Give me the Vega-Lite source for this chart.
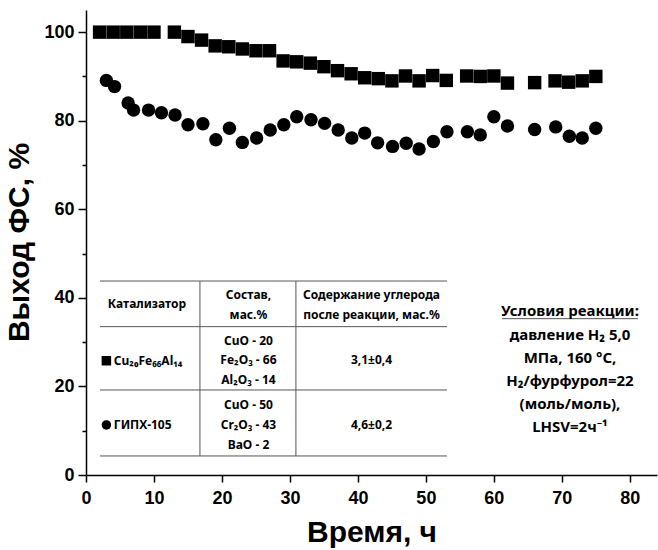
{
  "$schema": "https://vega.github.io/schema/vega-lite/v6.json",
  "width": 571,
  "height": 465,
  "autosize": "none",
  "padding": {"left": 86, "top": 10, "right": 1, "bottom": 75},
  "background": "white",
  "config": {
    "view": {"stroke": null},
    "axis": {
      "grid": false,
      "domainColor": "black",
      "domainWidth": 1.5,
      "tickColor": "black",
      "tickWidth": 1.5,
      "labelFont": "Liberation Sans",
      "labelFontWeight": "bold",
      "labelFontSize": 18,
      "labelColor": "black",
      "titleFont": "Liberation Sans",
      "titleFontWeight": "bold",
      "titleFontSize": 30,
      "titleColor": "black"
    }
  },
  "datasets": {
    "points": [
      {"t": 2, "yield": 100, "cat": "Cu20Fe66Al14"},
      {"t": 4, "yield": 100, "cat": "Cu20Fe66Al14"},
      {"t": 6, "yield": 100, "cat": "Cu20Fe66Al14"},
      {"t": 8, "yield": 100, "cat": "Cu20Fe66Al14"},
      {"t": 10, "yield": 100, "cat": "Cu20Fe66Al14"},
      {"t": 13, "yield": 100, "cat": "Cu20Fe66Al14"},
      {"t": 15, "yield": 99, "cat": "Cu20Fe66Al14"},
      {"t": 17, "yield": 98.2, "cat": "Cu20Fe66Al14"},
      {"t": 19, "yield": 96.9, "cat": "Cu20Fe66Al14"},
      {"t": 21, "yield": 96.7, "cat": "Cu20Fe66Al14"},
      {"t": 23, "yield": 96.2, "cat": "Cu20Fe66Al14"},
      {"t": 25, "yield": 95.8, "cat": "Cu20Fe66Al14"},
      {"t": 27, "yield": 95.8, "cat": "Cu20Fe66Al14"},
      {"t": 29, "yield": 93.5, "cat": "Cu20Fe66Al14"},
      {"t": 31, "yield": 93.3, "cat": "Cu20Fe66Al14"},
      {"t": 33, "yield": 93, "cat": "Cu20Fe66Al14"},
      {"t": 35, "yield": 92.2, "cat": "Cu20Fe66Al14"},
      {"t": 37, "yield": 91.3, "cat": "Cu20Fe66Al14"},
      {"t": 39, "yield": 90.6, "cat": "Cu20Fe66Al14"},
      {"t": 41, "yield": 89.7, "cat": "Cu20Fe66Al14"},
      {"t": 43, "yield": 89.5, "cat": "Cu20Fe66Al14"},
      {"t": 45, "yield": 89, "cat": "Cu20Fe66Al14"},
      {"t": 47, "yield": 90.1, "cat": "Cu20Fe66Al14"},
      {"t": 49, "yield": 89, "cat": "Cu20Fe66Al14"},
      {"t": 51, "yield": 90.2, "cat": "Cu20Fe66Al14"},
      {"t": 53, "yield": 89.1, "cat": "Cu20Fe66Al14"},
      {"t": 56, "yield": 90.1, "cat": "Cu20Fe66Al14"},
      {"t": 58, "yield": 90, "cat": "Cu20Fe66Al14"},
      {"t": 60, "yield": 90.1, "cat": "Cu20Fe66Al14"},
      {"t": 62, "yield": 88.5, "cat": "Cu20Fe66Al14"},
      {"t": 66, "yield": 88.6, "cat": "Cu20Fe66Al14"},
      {"t": 69, "yield": 89, "cat": "Cu20Fe66Al14"},
      {"t": 71, "yield": 88.7, "cat": "Cu20Fe66Al14"},
      {"t": 73, "yield": 89, "cat": "Cu20Fe66Al14"},
      {"t": 75, "yield": 90, "cat": "Cu20Fe66Al14"},
      {"t": 3, "yield": 89.1, "cat": "ГИПХ-105"},
      {"t": 4.2, "yield": 87.7, "cat": "ГИПХ-105"},
      {"t": 6.2, "yield": 84, "cat": "ГИПХ-105"},
      {"t": 7, "yield": 82.4, "cat": "ГИПХ-105"},
      {"t": 9.2, "yield": 82.4, "cat": "ГИПХ-105"},
      {"t": 11.1, "yield": 81.8, "cat": "ГИПХ-105"},
      {"t": 13.1, "yield": 81.3, "cat": "ГИПХ-105"},
      {"t": 15, "yield": 79.1, "cat": "ГИПХ-105"},
      {"t": 17.2, "yield": 79.3, "cat": "ГИПХ-105"},
      {"t": 19.1, "yield": 75.7, "cat": "ГИПХ-105"},
      {"t": 21.1, "yield": 78.3, "cat": "ГИПХ-105"},
      {"t": 23, "yield": 75.1, "cat": "ГИПХ-105"},
      {"t": 25.1, "yield": 76.1, "cat": "ГИПХ-105"},
      {"t": 27.1, "yield": 77.9, "cat": "ГИПХ-105"},
      {"t": 29.1, "yield": 79.1, "cat": "ГИПХ-105"},
      {"t": 31, "yield": 80.9, "cat": "ГИПХ-105"},
      {"t": 33.1, "yield": 80.2, "cat": "ГИПХ-105"},
      {"t": 35.1, "yield": 79.4, "cat": "ГИПХ-105"},
      {"t": 37.1, "yield": 77.9, "cat": "ГИПХ-105"},
      {"t": 39.1, "yield": 76.1, "cat": "ГИПХ-105"},
      {"t": 41, "yield": 77.2, "cat": "ГИПХ-105"},
      {"t": 42.9, "yield": 75, "cat": "ГИПХ-105"},
      {"t": 45.1, "yield": 74.2, "cat": "ГИПХ-105"},
      {"t": 47.1, "yield": 74.9, "cat": "ГИПХ-105"},
      {"t": 49, "yield": 73.6, "cat": "ГИПХ-105"},
      {"t": 51.1, "yield": 75.3, "cat": "ГИПХ-105"},
      {"t": 53.1, "yield": 77.5, "cat": "ГИПХ-105"},
      {"t": 56.1, "yield": 77.5, "cat": "ГИПХ-105"},
      {"t": 58, "yield": 76.8, "cat": "ГИПХ-105"},
      {"t": 60, "yield": 80.9, "cat": "ГИПХ-105"},
      {"t": 62, "yield": 78.8, "cat": "ГИПХ-105"},
      {"t": 66, "yield": 78, "cat": "ГИПХ-105"},
      {"t": 69.1, "yield": 78.6, "cat": "ГИПХ-105"},
      {"t": 71.1, "yield": 76.5, "cat": "ГИПХ-105"},
      {"t": 73, "yield": 76.1, "cat": "ГИПХ-105"},
      {"t": 75, "yield": 78.3, "cat": "ГИПХ-105"}
    ],
    "tableLines": [
      {"x": 2.06, "x2": 53.1, "y": 43.8, "y2": 43.8},
      {"x": 2.06, "x2": 53.1, "y": 33.5, "y2": 33.5},
      {"x": 2.06, "x2": 53.1, "y": 19.2, "y2": 19.2},
      {"x": 2.06, "x2": 53.1, "y": 4.3, "y2": 4.3},
      {"x": 16.76, "x2": 16.76, "y": 43.8, "y2": 4.3},
      {"x": 30.88, "x2": 30.88, "y": 43.8, "y2": 4.3},
      {"x": 61.2, "x2": 81.2, "y": 35.3, "y2": 35.3}
    ],
    "tableCenter": [
      {"x": 8.97, "y": 38.6, "lines": ["Катализатор"]},
      {"x": 23.9, "y": 40.66, "lines": ["Состав,", "мас.%"]},
      {"x": 42.0, "y": 40.66, "lines": ["Содержание углерода", "после реакции, мас.%"]},
      {"x": 23.9, "y": 30.34, "lines": ["CuO - 20", "Fe₂O₃ - 66", "Al₂O₃ - 14"]},
      {"x": 42.0, "y": 25.98, "lines": ["3,1±0,4"]},
      {"x": 23.9, "y": 15.81, "lines": ["CuO - 50", "Cr₂O₃ - 43", "BaO - 2"]},
      {"x": 42.0, "y": 11.3, "lines": ["4,6±0,2"]}
    ],
    "tableLeft": [
      {"x": 4.1, "y": 25.8, "label": "Cu₂₀Fe₆₆Al₁₄"},
      {"x": 4.1, "y": 11.3, "label": "ГИПХ-105"}
    ],
    "tableSymbols": [
      {"x": 3.0, "y": 25.8, "cat": "Cu20Fe66Al14"},
      {"x": 3.0, "y": 11.3, "cat": "ГИПХ-105"}
    ],
    "conditions": [
      {"x": 71.2, "y": 37.1, "lines": ["Условия реакции:"]},
      {"x": 71.2, "y": 31.62, "lines": ["давление H₂ 5,0", "МПа, 160 °C,", "H₂/фурфурол=22", "(моль/моль),", "LHSV=2ч⁻¹"]}
    ]
  },
  "layer": [
    {
      "data": {"name": "points"},
      "mark": {"type": "point", "filled": true, "opacity": 1, "size": 180, "color": "black", "strokeWidth": 0},
      "encoding": {
        "x": {
          "field": "t", "type": "quantitative",
          "scale": {"domain": [0, 84], "nice": false, "zero": false},
          "axis": {
            "title": "Время, ч",
            "values": [0, 5, 10, 15, 20, 25, 30, 35, 40, 45, 50, 55, 60, 65, 70, 75, 80],
            "labelExpr": "datum.value % 10 === 0 ? datum.label : ''",
            "tickSize": {"condition": {"test": "datum.value % 10 === 0", "value": 7}, "value": 4},
            "labelPadding": 7,
            "titlePadding": 10,
            "labelFlush": false
          }
        },
        "y": {
          "field": "yield", "type": "quantitative",
          "scale": {"domain": [0, 105], "nice": false, "zero": false},
          "axis": {
            "title": "Выход ФС, %",
            "values": [0, 10, 20, 30, 40, 50, 60, 70, 80, 90, 100],
            "labelExpr": "datum.value % 20 === 0 ? datum.label : ''",
            "tickSize": {"condition": {"test": "datum.value % 20 === 0", "value": 8}, "value": 4},
            "labelPadding": 4,
            "titleX": -52,
            "titleY": 232,
            "titleBaseline": "bottom",
            "labelFlush": false
          }
        },
        "shape": {
          "field": "cat", "type": "nominal",
          "scale": {"domain": ["Cu20Fe66Al14", "ГИПХ-105"], "range": ["square", "circle"]},
          "legend": null
        }
      }
    },
    {
      "mark": {"type": "rule", "color": "black", "strokeWidth": 2},
      "encoding": {"y": {"datum": 105, "type": "quantitative"}}
    },
    {
      "data": {"name": "tableLines"},
      "mark": {"type": "rule", "color": "#555555", "strokeWidth": 1},
      "encoding": {
        "x": {"field": "x", "type": "quantitative"},
        "x2": {"field": "x2"},
        "y": {"field": "y", "type": "quantitative"},
        "y2": {"field": "y2"}
      }
    },
    {
      "data": {"name": "tableSymbols"},
      "mark": {"type": "point", "filled": true, "opacity": 1, "size": 90, "color": "black", "strokeWidth": 0},
      "encoding": {
        "x": {"field": "x", "type": "quantitative"},
        "y": {"field": "y", "type": "quantitative"},
        "shape": {"field": "cat", "type": "nominal", "legend": null}
      }
    },
    {
      "data": {"name": "tableCenter"},
      "mark": {"type": "text", "align": "center", "baseline": "middle", "font": "Noto Sans", "fontWeight": "bold", "fontSize": 12, "lineHeight": 19.8, "color": "black"},
      "encoding": {
        "x": {"field": "x", "type": "quantitative"},
        "y": {"field": "y", "type": "quantitative"},
        "text": {"field": "lines"}
      }
    },
    {
      "data": {"name": "tableLeft"},
      "mark": {"type": "text", "align": "left", "baseline": "middle", "font": "Noto Sans", "fontWeight": "bold", "fontSize": 12, "color": "black"},
      "encoding": {
        "x": {"field": "x", "type": "quantitative"},
        "y": {"field": "y", "type": "quantitative"},
        "text": {"field": "label"}
      }
    },
    {
      "data": {"name": "conditions"},
      "mark": {"type": "text", "align": "center", "baseline": "middle", "font": "Noto Sans", "fontWeight": "bold", "fontSize": 15, "lineHeight": 23, "color": "black"},
      "encoding": {
        "x": {"field": "x", "type": "quantitative"},
        "y": {"field": "y", "type": "quantitative"},
        "text": {"field": "lines"}
      }
    }
  ]
}
